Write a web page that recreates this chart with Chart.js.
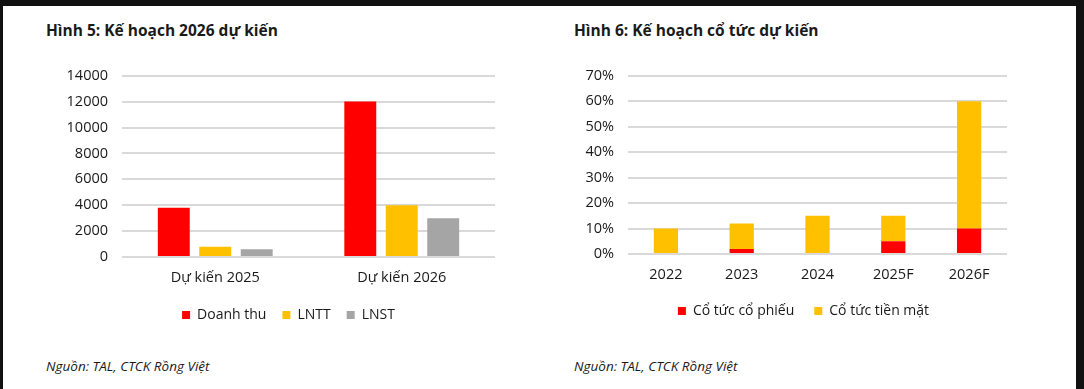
<!DOCTYPE html>
<html>
<head>
<meta charset="utf-8">
<script src="https://cdn.jsdelivr.net/npm/chart.js@4.4.1/dist/chart.umd.min.js"></script>
<style>
  html, body { margin: 0; padding: 0; background: #111111; width: 1084px; height: 389px; overflow: hidden; }
  #panel { position: absolute; left: 3px; top: 6px; width: 1073px; height: 383px; background: #fff; }
  .title { position: absolute; font: bold 15.5px "Open Sans", sans-serif; color: #1a1a1a; top: 19px; }
  .src { position: absolute; font: italic 13.5px "Open Sans", sans-serif; color: #1a1a1a; top: 357px; }
  canvas { position: absolute; }
</style>
</head>
<body>
<div id="panel"></div>
<div class="title" style="left:46px">Hình 5: Kế hoạch 2026 dự kiến</div>
<div class="title" style="left:574px">Hình 6: Kế hoạch cổ tức dự kiến</div>
<div class="src" style="left:46px">Nguồn: TAL, CTCK Rồng Việt</div>
<div class="src" style="left:574px">Nguồn: TAL, CTCK Rồng Việt</div>
<canvas id="planChart" style="left:40px; top:53px; width:470px; height:279px"></canvas>
<canvas id="divChart" style="left:546px; top:53px; width:470px; height:275px"></canvas>
<script>
// Hình 5 - số liệu
const planLabels = ['Dự kiến 2025', 'Dự kiến 2026'];
const doanhThu = [3800, 12000];
const lntt = [800, 4000];
const lnst = [600, 3000];

// Hình 6 - số liệu (%)
const divYears = ['2022', '2023', '2024', '2025F', '2026F'];
const coTucCoPhieu = [0, 2, 0, 5, 10];
const coTucTienMat = [10, 10, 15, 10, 50];

const RED = '#ff0000', YELLOW = '#ffc000', GRAY = '#a5a5a5';
const FONT = { family: '"Open Sans", sans-serif', size: 14.5 };
const LEGEND_FONT = { family: '"Open Sans", sans-serif', size: 14 };

Chart.defaults.color = '#1a1a1a';
Chart.defaults.font = FONT;

// the legend in the original is not centred on the chart, nudge it sideways
const legendShift = {
    id: 'legendShift',
    afterLayout(chart, args, opts) {
        const lg = chart.legend;
        if (!lg || !opts.dx) return;
        lg.left += opts.dx;
        lg.right += opts.dx;
    }
};

function baseOptions(yMax, yStep, yFmt, padRight, xHeight, legendPad, dx) {
    return {
        responsive: false,
        animation: false,
        layout: { padding: { top: 0, right: padRight, left: 0, bottom: 0 } },
        plugins: {
            legend: {
                position: 'bottom',
                labels: { boxWidth: 8, boxHeight: 8, padding: legendPad, font: LEGEND_FONT, color: '#1a1a1a' }
            },
            legendShift: { dx: dx },
            tooltip: { enabled: false }
        },
        scales: {
            x: {
                grid: { display: false, drawTicks: false },
                border: { display: false },
                ticks: { padding: 12, font: FONT, color: '#1a1a1a', maxRotation: 0 },
                afterFit: s => { s.height = xHeight; }
            },
            y: {
                min: 0, max: yMax,
                grid: { color: '#d9d9d9', lineWidth: 2, drawTicks: false },
                border: { display: false },
                ticks: { stepSize: yStep, padding: 14, font: FONT, color: '#1a1a1a', callback: yFmt },
                afterFit: s => { s.width = 82; }
            }
        }
    };
}

function renderPlan() {
    const ctx = document.getElementById('planChart');
    ctx.width = 470; ctx.height = 279;
    const opts = baseOptions(14000, 2000, v => v, 15, 35, 16, 21);
    new Chart(ctx, {
        type: 'bar',
        data: {
            labels: planLabels,
            datasets: [
                { label: 'Doanh thu', data: doanhThu, backgroundColor: RED },
                { label: 'LNTT', data: lntt, backgroundColor: YELLOW },
                { label: 'LNST', data: lnst, backgroundColor: GRAY }
            ]
        },
        options: Object.assign(opts, {
            datasets: { bar: { categoryPercentage: 0.667, barPercentage: 0.77 } }
        }),
        plugins: [legendShift]
    });
}

function renderDividend() {
    const ctx = document.getElementById('divChart');
    ctx.width = 470; ctx.height = 275;
    const opts = baseOptions(70, 10, v => v + '%', 9, 30, 20, 27);
    opts.scales.x.stacked = true;
    opts.scales.y.stacked = true;
    new Chart(ctx, {
        type: 'bar',
        data: {
            labels: divYears,
            datasets: [
                { label: 'Cổ tức cổ phiếu', data: coTucCoPhieu, backgroundColor: RED },
                { label: 'Cổ tức tiền mặt', data: coTucTienMat, backgroundColor: YELLOW }
            ]
        },
        options: Object.assign(opts, {
            datasets: { bar: { categoryPercentage: 1, barPercentage: 0.32 } }
        }),
        plugins: [legendShift]
    });
}

renderPlan();
renderDividend();
</script>
</body>
</html>
